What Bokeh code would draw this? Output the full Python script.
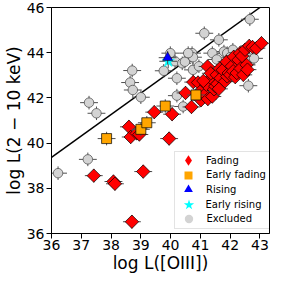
import numpy as np
from bokeh.plotting import figure
from bokeh.models import Legend, LegendItem, FixedTicker
from bokeh.embed import file_html
from bokeh.resources import INLINE

# ---- data ----
fading_x = [37.42, 38.08, 38.13, 38.70, 39.08, 39.95, 38.60, 38.66, 38.86, 38.95,
            39.45, 40.05, 40.50, 40.70, 40.76, 40.92, 41.02, 41.05, 41.15, 41.20,
            41.24, 41.25, 41.35, 41.35, 41.40, 41.46, 41.50, 41.55, 41.57, 41.65,
            41.68, 41.75, 41.82, 41.88, 41.90, 41.95, 42.00, 42.05, 42.10, 42.12,
            42.17, 42.22, 42.28, 42.33, 42.35, 42.40, 42.44, 42.50, 42.55, 42.58,
            42.64, 42.75, 42.88, 43.05, 41.62, 41.10]
fading_y = [38.56, 38.30, 38.20, 36.52, 38.74, 40.20, 40.72, 40.27, 40.43, 40.38,
            41.37, 41.28, 42.22, 41.60, 42.70, 42.68, 41.90, 42.35, 42.15, 42.58,
            43.39, 41.95, 42.87, 43.09, 42.06, 42.38, 42.52, 43.02, 42.62, 43.30,
            42.87, 43.24, 42.72, 43.60, 42.95, 43.10, 43.02, 43.40, 43.18, 43.82,
            42.92, 43.10, 43.68, 43.98, 43.30, 43.85, 43.02, 44.13, 43.46, 43.25,
            44.30, 44.25, 44.20, 44.42, 42.40, 42.75]

early_fading_x = [37.85, 39.00, 39.20, 39.82, 40.85]
early_fading_y = [40.20, 40.61, 40.90, 41.64, 42.13]

rising_x = [39.90]
rising_y = [43.78]

early_rising_x = [39.92]
early_rising_y = [43.62]

excluded_x = [36.22, 37.22, 37.26, 37.51, 38.71, 38.64, 38.73, 39.00, 39.77, 39.99,
              40.15, 40.21, 40.39, 40.72, 40.75, 41.13, 40.21, 40.42, 41.62, 42.66,
              42.61, 42.64, 41.40, 41.79, 40.48, 40.75, 40.59, 41.90, 42.09, 42.00,
              41.55, 40.95, 42.80, 42.33]
excluded_y = [38.67, 39.28, 41.79, 41.32, 43.21, 42.68, 42.35, 42.03, 43.20, 43.98,
              43.62, 42.87, 43.53, 43.98, 43.24, 44.86, 42.10, 41.62, 44.57, 45.48,
              42.54, 43.75, 43.98, 44.05, 43.60, 43.80, 43.98, 43.98, 44.13, 43.80,
              43.70, 43.40, 43.75, 43.98]

x_err = 0.3
y_err = 0.3

line_x = [36.0, 43.0]
line_y = [39.37, 46.0]

x_ticks = [36, 37, 38, 39, 40, 41, 42, 43]
y_ticks = [36, 38, 40, 42, 44, 46]

legend_labels = ["Fading", "Early fading", "Rising", "Early rising", "Excluded"]

FONT = "DejaVu Sans"

p = figure(width=272, height=283, x_range=(36, 43.32), y_range=(36, 46),
           output_backend="svg", toolbar_location=None,
           min_border_left=45, min_border_right=3, min_border_top=11, min_border_bottom=46)
p.styles = {"margin-top": "-4px"}
p.background_fill_color = "white"
p.border_fill_color = "white"
p.grid.visible = False
p.outline_line_color = "black"
p.outline_line_width = 1

for ax in (p.xaxis[0], p.yaxis[0]):
    ax.major_label_text_font = FONT
    ax.major_label_text_font_size = "14px"
    ax.major_label_text_color = "black"
    ax.axis_label_text_font = FONT
    ax.axis_label_text_font_size = "17px"
    ax.axis_label_text_font_style = "normal"
    ax.axis_label_text_color = "black"
    ax.major_tick_out = 5
    ax.major_tick_in = 0
    ax.minor_tick_line_color = None
    ax.axis_line_color = "black"
    ax.major_tick_line_color = "black"
    ax.major_label_standoff = 2
    ax.axis_label_standoff = 0

p.xaxis.ticker = FixedTicker(ticks=x_ticks)
p.yaxis.ticker = FixedTicker(ticks=y_ticks)
p.xaxis.axis_label = "log L([OIII])"
p.yaxis.axis_label = "log L(2 − 10 keV)"
p.xaxis.major_label_standoff = 1

# reference line
p.line(line_x, line_y, line_color="black", line_width=1.5)

def errbars(xs, ys):
    xs = np.array(xs); ys = np.array(ys)
    p.segment(x0=xs - x_err, x1=xs + x_err, y0=ys, y1=ys, line_color="#505050", line_width=1)
    p.segment(x0=xs, x1=xs, y0=ys - y_err, y1=ys + y_err, line_color="#505050", line_width=1)

errbars(excluded_x, excluded_y)
p.scatter(excluded_x, excluded_y, marker="circle", size=9.5, fill_color="lightgray",
          line_color="#444444", line_width=0.7)

errbars(fading_x, fading_y)
p.scatter(fading_x, fading_y, marker="square", angle=np.pi / 4, size=9.5, fill_color="red",
          line_color="black", line_width=0.7)

errbars(early_fading_x, early_fading_y)
p.scatter(early_fading_x, early_fading_y, marker="square", size=10, fill_color="orange",
          line_color="black", line_width=0.7)

errbars(early_rising_x, early_rising_y)
p.scatter(early_rising_x, early_rising_y, marker="star", size=13, fill_color="cyan",
          line_color="cyan", line_width=0.5)

errbars(rising_x, rising_y)
p.scatter(rising_x, rising_y, marker="triangle", size=10, fill_color="blue",
          line_color="black", line_width=0.5)

nan = [float("nan")]

# ---- legend frame: an empty legend box drawn first ----
frame_r = p.scatter(nan, nan, marker="circle", fill_color=None, line_color=None)
frame_lg = Legend(items=[LegendItem(label=" ", renderers=[frame_r])], location=(123, 4))
frame_lg.glyph_width = 93
frame_lg.glyph_height = 76
frame_lg.label_height = 76
frame_lg.label_standoff = 0
frame_lg.padding = 0
frame_lg.margin = 0
frame_lg.label_text_font_size = "10px"
frame_lg.border_line_color = "#c8c8c8"
frame_lg.border_line_width = 1
frame_lg.background_fill_color = "white"
frame_lg.background_fill_alpha = 0.85
p.add_layout(frame_lg)

# ---- one single-item legend per entry ----
proxy_specs = [("diamond", "red", 26), ("square", "orange", 20), ("triangle", "blue", 22),
               ("star", "cyan", 27), ("circle", "lightgray", 21)]
row_centers = [73, 58.5, 44, 29, 14.5]   # row centre above frame bottom
glyph_cx = 137                           # glyph centre from frame left
text_x = 155                             # text start from frame left

for label, (mk, col, g), cy in zip(legend_labels, proxy_specs, row_centers):
    r = p.scatter(nan, nan, marker=mk, fill_color=col, line_color=None)
    lg = Legend(items=[LegendItem(label=label, renderers=[r])],
                location=(glyph_cx - g / 2, cy - g / 2))
    lg.glyph_width = g
    lg.glyph_height = g
    lg.label_height = g
    lg.label_standoff = int(round(text_x - (glyph_cx + g / 2)))
    lg.padding = 0
    lg.margin = 0
    lg.border_line_color = None
    lg.background_fill_alpha = 0
    lg.label_text_font = FONT
    lg.label_text_font_size = "10px"
    lg.label_text_color = "black"
    p.add_layout(lg)

open("out.html", "w").write(file_html(p, INLINE))
